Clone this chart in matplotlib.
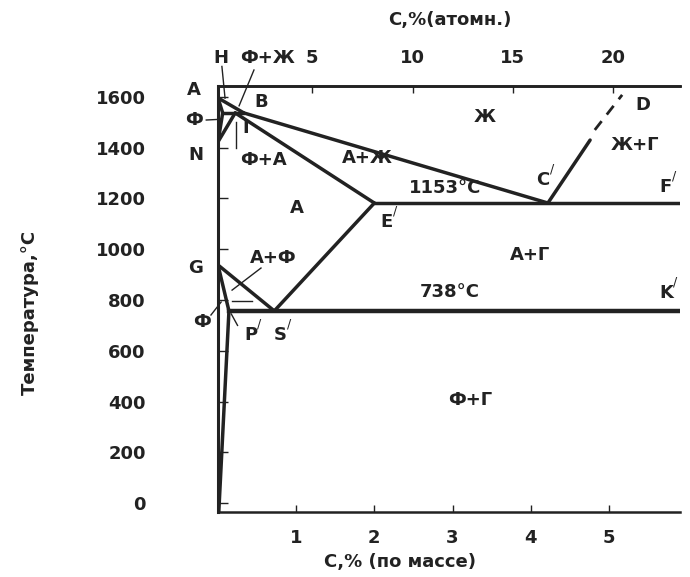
import matplotlib
matplotlib.use("Agg")
import matplotlib.pyplot as plt

plt.rcParams['font.family'] = ['DejaVu Sans']

# ---- data (C wt%, temperature °C) ----
pt_A = (0.0, 1596)
pt_H = (0.06, 1537)
pt_J = (0.22, 1537)
pt_B = (0.33, 1537)
pt_N = (0.0, 1423)
pt_E = (2.0, 1182)
pt_C = (4.22, 1182)
pt_F = (5.91, 1182)
pt_G = (0.0, 938)
pt_P = (0.14, 757)
pt_S = (0.72, 757)
pt_K = (5.91, 757)
pt_Q = (0.01, -35)
pt_D1 = (4.76, 1430)
pt_D2 = (4.82, 1470)
pt_D = (5.17, 1608)

solid_lines = [
    (pt_A, pt_B), (pt_B, pt_C), (pt_A, pt_H), (pt_H, pt_B),
    (pt_N, pt_H), (pt_N, pt_J), (pt_J, pt_E), (pt_E, pt_F),
    (pt_E, pt_S), (pt_G, pt_S), (pt_G, pt_P), (pt_P, pt_Q),
    (pt_C, pt_D1),
]
thick_lines = [(pt_P, pt_K)]
dashed_lines = [(pt_D2, pt_D)]

leaders = [
    ((0.05, 1720), (0.09, 1595)),
    ((0.46, 1706), (0.27, 1565)),
    ((-0.15, 1509), (0.04, 1512)),
    ((0.23, 1399), (0.23, 1500)),
    ((0.55, 926), (0.18, 839)),
    ((0.18, 796), (0.44, 796)),
    ((-0.09, 741), (0.04, 792)),
    ((0.25, 700), (0.17, 745)),
]

x_ticks = [1, 2, 3, 4, 5]
y_ticks = [0, 200, 400, 600, 800, 1000, 1200, 1400, 1600]
top_tick_pos = [1.205, 2.49, 3.77, 5.05]
top_tick_labels = ['5', '10', '15', '20']

labels = [
    ("A", -0.31, 1628), ("H", 0.04, 1754), ("Ф+Ж", 0.64, 1754),
    ("B", 0.55, 1580), ("Ф", -0.31, 1509), ("N", -0.28, 1371),
    ("I", 0.35, 1478), ("Ф+A", 0.58, 1352), ("A+Ж", 1.91, 1360),
    ("Ж", 3.41, 1520), ("1153°C", 2.9, 1241), ("D", 5.43, 1568),
    ("Ж+Г", 5.33, 1411), ("A", 1.01, 1163), ("A+Г", 3.99, 977),
    ("G", -0.29, 926), ("A+Ф", 0.7, 966), ("738°C", 2.96, 831),
    ("Ф", -0.2, 713), ("Ф+Г", 3.22, 406),
]
prime_labels = [
    ("C", 4.16, 1273), ("F", 5.72, 1245), ("E", 2.15, 1107),
    ("K", 5.74, 828), ("P", 0.42, 662), ("S", 0.8, 662),
]

color = '#222222'
fs = 13
fw = 'bold'

fig = plt.figure(figsize=(6.9, 5.77), dpi=100)
ax = fig.add_axes([218/690, 1-512/577, (680-218)/690, (512-86)/577])
ax.set_xlim(0, 5.91)
ax.set_ylim(-35, 1643)

for p1, p2 in solid_lines:
    ax.plot([p1[0], p2[0]], [p1[1], p2[1]], color=color, lw=2.5,
            solid_capstyle='round')
for p1, p2 in thick_lines:
    ax.plot([p1[0], p2[0]], [p1[1], p2[1]], color=color, lw=3.2)
for p1, p2 in dashed_lines:
    ax.plot([p1[0], p2[0]], [p1[1], p2[1]], color=color, lw=2.0,
            dashes=(4, 3))
for p1, p2 in leaders:
    ax.plot([p1[0], p2[0]], [p1[1], p2[1]], color=color, lw=1.0,
            clip_on=False)

for t, x, y in labels:
    ax.text(x, y, t, ha='center', va='center', fontsize=fs,
            fontweight=fw, color=color, clip_on=False)
for t, x, y in prime_labels:
    ax.text(x, y, t, ha='center', va='center', fontsize=fs,
            fontweight=fw, color=color, clip_on=False)
    ax.text(x + 0.11, y + 42, '/', ha='center', va='center', fontsize=9,
            color=color, clip_on=False)

ax.spines['right'].set_visible(False)
ax.spines['left'].set_linewidth(2.2)
ax.spines['bottom'].set_linewidth(1.8)
ax.spines['top'].set_linewidth(1.8)
for s in ['left', 'bottom', 'top']:
    ax.spines[s].set_color(color)

ax.set_xticks(x_ticks)
ax.set_xticklabels([str(v) for v in x_ticks])
ax.set_yticks(y_ticks)
ax.set_yticklabels([str(v) for v in y_ticks])
ax.tick_params(axis='x', direction='in', length=5, width=1, pad=12,
               labelsize=fs, colors=color)
ax.tick_params(axis='y', direction='in', length=7, width=1, pad=52,
               labelsize=fs, colors=color)
for lab in ax.get_xticklabels() + ax.get_yticklabels():
    lab.set_fontweight(fw)

sec = ax.secondary_xaxis('top')
sec.set_xticks(top_tick_pos)
sec.set_xticklabels(top_tick_labels)
sec.tick_params(direction='in', length=5, width=1, pad=14, labelsize=fs,
                colors=color)
sec.spines['top'].set_linewidth(1.8)
for lab in sec.get_xticklabels():
    lab.set_fontweight(fw)

fig.text(400/690, 1-562/577, 'C,% (по массе)', ha='center', va='center',
         fontsize=fs, fontweight=fw, color=color)
fig.text(450/690, 1-20/577, 'C,%(атомн.)', ha='center', va='center',
         fontsize=fs, fontweight=fw, color=color)
fig.text(30/690, 1-312/577, 'Температура,°C', ha='center', va='center',
         rotation=90, fontsize=fs, fontweight=fw, color=color)

fig.savefig('out.png', dpi=100, facecolor='white')
